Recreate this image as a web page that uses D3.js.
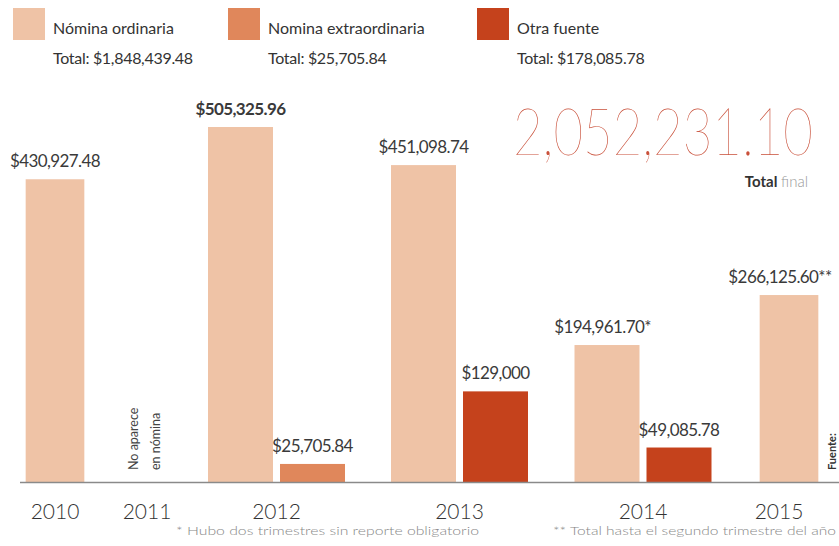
<!DOCTYPE html>
<html>
<head>
<meta charset="utf-8">
<script src="https://cdn.jsdelivr.net/npm/d3@7"></script>
<style>
	body { margin: 0; background: #fff; }
	svg { display: block; font-family: Lato, "Open Sans", sans-serif; }
</style>
</head>
<body>
<svg id="chart" width="839" height="546"></svg>
<script>
const years = ["2010", "2011", "2012", "2013", "2014", "2015"];
const seriesNames = ["Nómina ordinaria", "Nomina extraordinaria", "Otra fuente"];
const ordinaria = [430927.48, null, 505325.96, 451098.74, 194961.70, 266125.60];
const extraordinaria = [null, null, 25705.84, null, null, null];
const otraFuente = [null, null, null, 129000, 49085.78, null];
const ordinariaNotes = ["", "", "", "", "*", "**"];
const footnotes = ["* Hubo dos trimestres sin reporte obligatorio", "** Total hasta el segundo trimestre del año"];

const colors = ["#efc3a6", "#e0875b", "#c5421c"];
const seriesValues = [ordinaria, extraordinaria, otraFuente];

const svg = d3.select("#chart");

const baseline = 482;
const barWidth = 65;
const barGap = 7;

// year centers are not evenly spread in the original
const x = d3.scaleOrdinal()
	.domain(years)
	.range([55, 147, 276.5, 459.5, 643, 789]);

const maxVal = d3.max(ordinaria);
const y = d3.scaleLinear()
	.domain([0, maxVal])
	.range([baseline, 127]);

const money = (v) => Number.isInteger(v) ? d3.format("$,")(v) : d3.format("$,.2f")(v);

// flatten into bars
const bars = [];
years.forEach((year, i) => {
	const present = seriesValues
	.map((vals, s) => ({s, v: vals[i]}))
	.filter((d) => d.v != null);

	if (!present.length) {
		return;
	}

	const w = present.length * (barWidth + barGap) - barGap;
	const band = d3.scaleBand()
	.domain(present.map((d) => d.s))
	.range([x(year) - w / 2, x(year) + w / 2])
	.paddingInner(barGap / (barWidth + barGap));

	present.forEach((d) => {
		bars.push({
			year,
			s: d.s,
			v: d.v,
			x0: band(d.s),
			bw: band.bandwidth(),
			note: d.s === 0 ? ordinariaNotes[i] : ""
		});
	});
});

const barG = svg.append("g");

barG.selectAll("rect")
.data(bars)
.enter()
.append("rect")
.attr("x", (d) => d.x0)
.attr("y", (d) => y(d.v))
.attr("width", (d) => d.bw)
.attr("height", (d) => baseline - y(d.v))
.attr("fill", (d) => colors[d.s]);

// asterisks hang to the right of the centred number
barG.selectAll(".val")
.data(bars)
.enter()
.append("text")
.attr("class", "val")
.attr("x", (d) => d.x0 + d.bw / 2 - d.note.length * 4.5)
.attr("y", (d) => y(d.v) - 12)
.attr("text-anchor", "middle")
.attr("font-size", "17px")
.attr("letter-spacing", "-0.6px")
.attr("font-weight", (d) => d.v === maxVal ? 700 : 400)
.attr("fill", "#3a3a3a")
.text((d) => money(d.v) + d.note);

// axis line
svg.append("line")
.attr("x1", 20)
.attr("x2", 839)
.attr("y1", baseline + 0.5)
.attr("y2", baseline + 0.5)
.attr("stroke", "#8a8a8a")
.attr("stroke-width", 1.5);

svg.append("g")
.selectAll("text")
.data(years)
.enter()
.append("text")
.attr("x", (d) => d === "2015" ? x(d) - 10 : x(d))
.attr("y", 519)
.attr("text-anchor", "middle")
.attr("font-size", "21px")
.attr("font-weight", 300)
.attr("fill", "#333")
.text((d) => d);

// 2011 has no nómina
const noteG = svg.append("g")
.attr("transform", `translate(${x("2011") - 9}, 470) rotate(-90)`)
.attr("font-size", "12.5px")
.attr("fill", "#444");

noteG.append("text").attr("x", 0).attr("y", 0).text("No aparece");
noteG.append("text").attr("x", 0).attr("y", 22).text("en nómina");

// legend
const legendX = [13, 228, 477];
const legend = svg.append("g")
.selectAll("g")
.data(seriesNames)
.enter()
.append("g")
.attr("transform", (d, i) => `translate(${legendX[i]}, 0)`);

legend.append("rect")
.attr("x", 0)
.attr("y", 8)
.attr("width", 32)
.attr("height", 32)
.attr("fill", (d, i) => colors[i]);

legend.append("text")
.attr("x", 40)
.attr("y", 34)
.attr("font-size", "16px")
.attr("fill", "#333")
.text((d) => d);

legend.append("text")
.attr("x", 40)
.attr("y", 64)
.attr("font-size", "16px")
.attr("letter-spacing", "-0.3px")
.attr("fill", "#333")
.text((d, i) => "Total: " + money(d3.sum(seriesValues[i])));

// grand total, squeezed horizontally to the original's width
const grand = d3.sum(seriesValues, (vals) => d3.sum(vals));

const grandText = svg.append("text")
.attr("x", 0)
.attr("y", 0)
.attr("font-size", "66px")
.attr("font-weight", 200)
.attr("fill", "#c9503a")
.text(d3.format(",.2f")(grand));

const naturalW = grandText.node().getComputedTextLength();
grandText.attr("transform", `translate(513, 155) scale(${300 / naturalW}, 1)`);

const tf = svg.append("text")
.attr("x", 808)
.attr("y", 187)
.attr("text-anchor", "end")
.attr("font-size", "15px");

tf.append("tspan").attr("font-weight", 700).attr("fill", "#333").text("Total ");
tf.append("tspan").attr("font-weight", 300).attr("fill", "#999").text("final");

// footnotes
svg.append("g")
.selectAll("text")
.data(footnotes)
.enter()
.append("text")
.attr("x", (d, i) => [176, 553][i])
.attr("y", 535)
.attr("font-size", "12px")
.attr("font-weight", 300)
.attr("fill", "#888")
.attr("textLength", (d, i) => [303, 283][i])
.attr("lengthAdjust", "spacingAndGlyphs")
.text((d) => d);

// source credit at the right edge
svg.append("text")
.attr("transform", "translate(836, 470) rotate(-90)")
.attr("font-size", "11px")
.attr("font-weight", 700)
.attr("fill", "#333")
.text("Fuente:");
</script>
</body>
</html>
